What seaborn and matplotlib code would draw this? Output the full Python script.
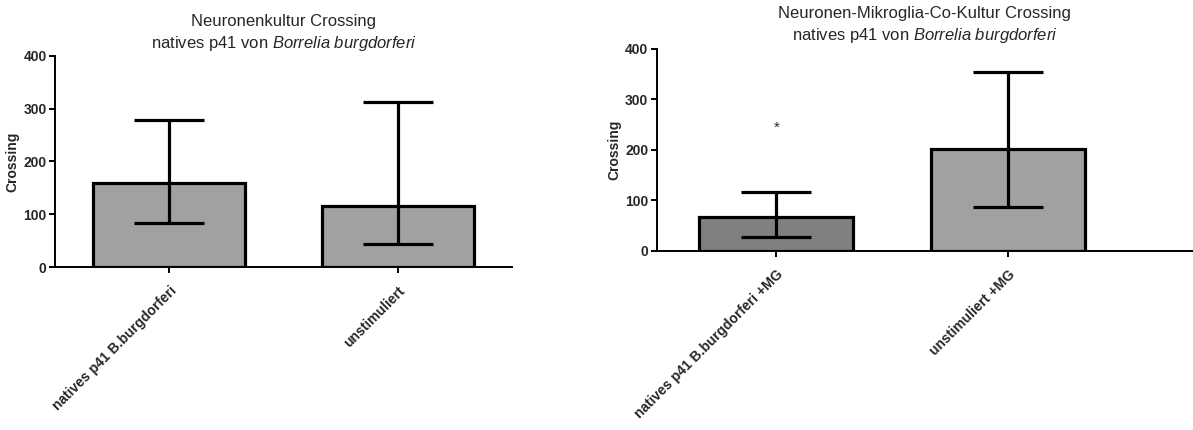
import numpy as np
import pandas as pd
import matplotlib
matplotlib.use("Agg")
import matplotlib.pyplot as plt
import seaborn as sns

# Neuronenkultur
cats_left = ["natives p41 B.burgdorferi", "unstimuliert"]
mean_left = [160, 116]
upper_left = [278, 313]
lower_left = [83, 44]
colors_left = ["#a1a0a5", "#a1a0a5"]

# Neuronen-Mikroglia-Co-Kultur
cats_right = ["natives p41 B.burgdorferi +MG", "unstimuliert +MG"]
mean_right = [67, 202]
upper_right = [116, 353]
lower_right = [27, 86]
colors_right = ["#808080", "#a1a0a5"]
star_pos = (0, 244)

sns.set_style("ticks")
plt.rcParams["font.family"] = ["Liberation Sans", "DejaVu Sans"]
plt.rcParams["mathtext.fontset"] = "custom"
plt.rcParams["mathtext.rm"] = "Liberation Sans"
plt.rcParams["mathtext.it"] = "Liberation Sans:italic"

fig = plt.figure(figsize=(11.93, 4.30), dpi=100)
ax1 = fig.add_axes([0.0461, 0.379, 0.383, 0.491])
ax2 = fig.add_axes([0.5505, 0.417, 0.4496, 0.470])


def draw(ax, cats, mean, upper, lower, colors, title, xlim, ylab_x):
    df = pd.DataFrame({"cat": cats, "val": mean})
    sns.barplot(data=df, x="cat", y="val", hue="cat", palette=colors,
                errorbar=None, width=0.665, edgecolor="black", linewidth=2.3,
                legend=False, ax=ax)
    m = np.array(mean, dtype=float)
    yerr = np.vstack([m - np.array(lower), np.array(upper) - m])
    ax.errorbar(np.arange(len(cats)), m, yerr=yerr, fmt="none", ecolor="black",
                elinewidth=2.3, capsize=25, capthick=2.3, zorder=5)
    ax.set_xlim(*xlim)
    ax.set_ylim(0, 400)
    ax.set_yticks([0, 100, 200, 300, 400])
    ax.set_xlabel("")
    ax.set_ylabel("Crossing", fontsize=10, fontweight="bold")
    ax.yaxis.set_label_coords(ylab_x, 0.5)
    ax.set_title(title, fontsize=12, pad=6, linespacing=1.35)
    for s in ["top", "right"]:
        ax.spines[s].set_visible(False)
    for s in ["left", "bottom"]:
        ax.spines[s].set_linewidth(1.4)
        ax.spines[s].set_color("black")
    ax.tick_params(axis="both", width=1.4, length=4, color="black",
                   labelsize=10)
    ax.tick_params(axis="y", pad=2)
    ax.tick_params(axis="x", pad=8)
    for lab in ax.get_yticklabels():
        lab.set_fontweight("bold")
    ax.set_xticks(range(len(cats)))
    ax.set_xticklabels(cats, rotation=45, ha="right", rotation_mode="anchor",
                       fontweight="bold", fontsize=10)


title_left = "Neuronenkultur Crossing\nnatives p41 von $\\it{Borrelia\\ burgdorferi}$"
title_right = "Neuronen-Mikroglia-Co-Kultur Crossing\nnatives p41 von $\\it{Borrelia\\ burgdorferi}$"

draw(ax1, cats_left, mean_left, upper_left, lower_left, colors_left,
     title_left, (-0.5, 1.5), -0.078)
draw(ax2, cats_right, mean_right, upper_right, lower_right, colors_right,
     title_right, (-0.515, 1.797), -0.066)
ax2.text(star_pos[0], star_pos[1], "*", ha="center", va="center", fontsize=11)

fig.savefig("out.png", dpi=100)
